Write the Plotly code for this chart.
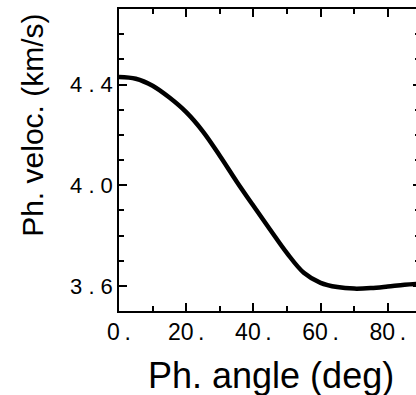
import plotly.graph_objects as go

# Data
angle_deg = [0, 5, 10, 15, 20, 25, 30, 35, 40, 45, 50, 55, 60, 65, 70, 75, 80, 85, 90]
velocity_kms = [4.430, 4.423, 4.395, 4.348, 4.290, 4.213, 4.117, 4.015, 3.918, 3.823,
                3.730, 3.652, 3.612, 3.595, 3.589, 3.591, 3.597, 3.604, 3.608]

x_tickvals = [0, 20, 40, 60, 80]
x_ticktext = ["0\u2009.", "20\u2009.", "40\u2009.", "60\u2009.", "80\u2009."]
x_minorvals = [10, 30, 50, 70, 90]

y_tickvals = [3.6, 4.0, 4.4]
y_ticktext = ["3 . 6", "4 . 0", "4 . 4"]
y_minorvals = [3.5, 3.7, 3.8, 3.9, 4.1, 4.2, 4.3, 4.5, 4.6, 4.7]

FONT = "Liberation Sans, Arial, Helvetica, sans-serif"

fig = go.Figure()
fig.add_trace(go.Scatter(
    x=angle_deg, y=velocity_kms, mode="lines",
    line=dict(color="black", width=4.5, shape="spline", smoothing=1.0),
    showlegend=False, hoverinfo="skip",
))

fig.update_layout(
    width=416, height=395,
    margin=dict(l=119, r=0, t=9, b=84),
    paper_bgcolor="white", plot_bgcolor="white",
    font=dict(family=FONT, color="black"),
    showlegend=False,
    xaxis=dict(
        range=[0, 88.4], tickmode="array", tickvals=x_tickvals, ticktext=x_ticktext,
        ticks="inside", ticklen=8, tickwidth=1.5, tickcolor="black",
        showline=True, linecolor="black", linewidth=1.5, mirror="ticks",
        showgrid=False, zeroline=False,
        tickfont=dict(size=23, family=FONT, color="black"),
        minor=dict(tickvals=x_minorvals, ticks="inside", ticklen=5, tickwidth=1.5, tickcolor="black", showgrid=False),
    ),
    yaxis=dict(
        range=[3.5, 4.7], tickmode="array", tickvals=y_tickvals, ticktext=y_ticktext,
        ticks="inside", ticklen=8, tickwidth=1.5, tickcolor="black",
        showline=True, linecolor="black", linewidth=1.5, mirror=False,
        showgrid=False, zeroline=False,
        tickfont=dict(size=22, family=FONT, color="black"),
        minor=dict(tickvals=y_minorvals, ticks="inside", ticklen=5, tickwidth=1.5, tickcolor="black", showgrid=False),
    ),
    yaxis2=dict(
        overlaying="y", side="right", range=[3.5, 4.7],
        tickmode="array", tickvals=y_tickvals, showticklabels=False,
        ticks="inside", ticklen=3, tickwidth=1.5, tickcolor="black",
        showline=False, showgrid=False, zeroline=False,
        minor=dict(tickvals=y_minorvals, ticks="inside", ticklen=1, tickwidth=1.5, tickcolor="black", showgrid=False),
    ),
    annotations=[
        dict(text="Ph. angle (deg)", xref="paper", yref="paper", x=0.512, y=-0.215,
             xanchor="center", yanchor="middle", showarrow=False,
             font=dict(size=36, family=FONT, color="black")),
        dict(text="Ph. veloc. (km/s)", xref="paper", yref="paper", x=-0.29, y=0.616,
             xanchor="center", yanchor="middle", textangle=-90, showarrow=False,
             font=dict(size=30, family=FONT, color="black")),
    ],
)
fig.add_trace(go.Scatter(x=[0], y=[4.0], yaxis="y2", mode="markers",
                         marker=dict(opacity=0), showlegend=False, hoverinfo="skip"))

fig.write_html("out.html", config={"displayModeBar": False},
               post_script="document.body.style.margin='0';")
